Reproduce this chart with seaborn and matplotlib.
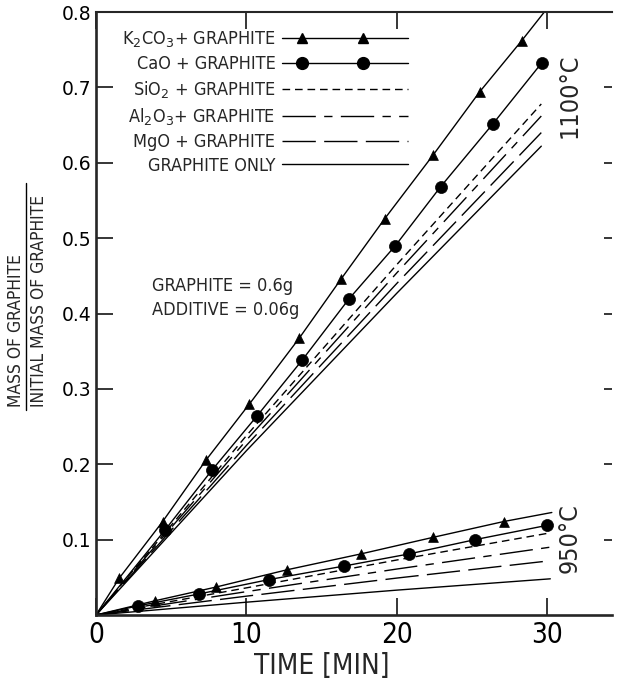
import numpy as np
import pandas as pd
import matplotlib
matplotlib.use("Agg")
import matplotlib.pyplot as plt
import seaborn as sns
from matplotlib import font_manager
from matplotlib.lines import Line2D
from matplotlib.legend_handler import HandlerLine2DCompound

# ---------------- data ----------------
# 1100 C
k2co3_1100_t = [1.55, 4.43, 7.33, 10.2, 13.5, 16.3, 19.2, 22.4, 25.5, 28.3]
k2co3_1100_y = [0.049, 0.124, 0.206, 0.280, 0.367, 0.446, 0.526, 0.610, 0.694, 0.762]
k2co3_1100_end = (30.0, 0.805)

cao_1100_t = [4.6, 7.7, 10.7, 13.7, 16.8, 19.9, 22.9, 26.4, 29.65]
cao_1100_y = [0.113, 0.192, 0.264, 0.338, 0.419, 0.490, 0.568, 0.652, 0.733]

plain_1100_t = [0, 10, 20, 29.6]
sio2_1100_y = [0, 0.238, 0.465, 0.678]
al2o3_1100_y = [0, 0.232, 0.454, 0.662]
mgo_1100_y = [0, 0.225, 0.440, 0.640]
graphite_1100_y = [0, 0.218, 0.427, 0.622]

# 950 C
k2co3_950_t = [3.95, 7.96, 12.7, 17.6, 22.4, 27.1]
k2co3_950_y = [0.019, 0.037, 0.060, 0.081, 0.103, 0.124]
k2co3_950_end = (30.3, 0.136)

cao_950_t = [2.77, 6.87, 11.5, 16.5, 20.8, 25.2, 30.0]
cao_950_y = [0.012, 0.028, 0.047, 0.065, 0.081, 0.100, 0.119]

plain_950_t = [0, 10, 20, 30.2]
sio2_950_y = [0, 0.036, 0.073, 0.109]
al2o3_950_y = [0, 0.031, 0.061, 0.090]
mgo_950_y = [0, 0.025, 0.049, 0.072]
graphite_950_y = [0, 0.017, 0.033, 0.048]

legend_labels = [r"K$_\mathrm{2}$CO$_\mathrm{3}$+ GRAPHITE", "CaO + GRAPHITE",
                 r"SiO$_\mathrm{2}$ + GRAPHITE", r"Al$_\mathrm{2}$O$_\mathrm{3}$+ GRAPHITE",
                 "MgO + GRAPHITE", "GRAPHITE ONLY"]
x_ticks = [0, 10, 20, 30]
y_ticks = [0.1, 0.2, 0.3, 0.4, 0.5, 0.6, 0.7, 0.8]

# ---------------- style ----------------
sns.set_style("ticks")
names = {f.name for f in font_manager.fontManager.ttflist}
if "Liberation Sans Narrow" in names:
    NARROW = "Liberation Sans Narrow"
    NSTRETCH = "normal"
else:
    NARROW = "DejaVu Sans"
    NSTRETCH = "condensed"
plt.rcParams["font.family"] = ["DejaVu Sans"]
plt.rcParams["mathtext.fontset"] = "custom"
plt.rcParams["mathtext.rm"] = NARROW
plt.rcParams["mathtext.it"] = NARROW
plt.rcParams["mathtext.bf"] = NARROW
plt.rcParams["lines.scale_dashes"] = False

nfont = dict(family=NARROW, stretch=NSTRETCH)

LS = {
    "sio2": (0, (5.5, 3.5)),
    "al2o3": (0, (24, 6, 6, 6)),
    "mgo": (0, (24, 6)),
    "graphite": "-",
}
LW = 1.0

fig = plt.figure(figsize=(6.18, 6.8), dpi=100)
ax = fig.add_axes([96 / 618, 1 - 615 / 680, 516 / 618, 603 / 680])

def line(t, y, ls="-"):
    sns.lineplot(x=t, y=y, ax=ax, color="black", lw=LW, linestyle=ls,
                 estimator=None, sort=False)

def marks(t, y, m, s):
    sns.scatterplot(x=t, y=y, ax=ax, color="black", marker=m, s=s,
                    edgecolor="black", linewidth=0.5, zorder=5)

# 1100 C
line([0] + k2co3_1100_t + [k2co3_1100_end[0]], [0] + k2co3_1100_y + [k2co3_1100_end[1]])
marks(k2co3_1100_t, k2co3_1100_y, "^", 50)
line([0] + cao_1100_t, [0] + cao_1100_y)
marks(cao_1100_t, cao_1100_y, "o", 75)
line(plain_1100_t, sio2_1100_y, LS["sio2"])
line(plain_1100_t, al2o3_1100_y, LS["al2o3"])
line(plain_1100_t, mgo_1100_y, LS["mgo"])
line(plain_1100_t, graphite_1100_y, LS["graphite"])

# 950 C
line([0] + k2co3_950_t + [k2co3_950_end[0]], [0] + k2co3_950_y + [k2co3_950_end[1]])
marks(k2co3_950_t, k2co3_950_y, "^", 50)
line([0] + cao_950_t, [0] + cao_950_y)
marks(cao_950_t, cao_950_y, "o", 75)
line(plain_950_t, sio2_950_y, LS["sio2"])
line(plain_950_t, al2o3_950_y, LS["al2o3"])
line(plain_950_t, mgo_950_y, LS["mgo"])
line(plain_950_t, graphite_950_y, LS["graphite"])

ax.set_xlim(0, 34.3)
ax.set_ylim(0, 0.8)
ax.set_xticks(x_ticks)
ax.set_yticks(y_ticks)
ax.set_xticklabels([str(v) for v in x_ticks], fontsize=20, **nfont)
ax.set_yticklabels([f"{v:.1f}" for v in y_ticks], fontsize=13.5)

for side in ["left", "bottom"]:
    ax.spines[side].set_linewidth(1.9)
ax.spines["top"].set_linewidth(1.5)
ax.spines["right"].set_visible(False)

ax.tick_params(axis="both", which="major", direction="in", width=1.1, length=12,
               color="black", labelcolor="black")
ax.tick_params(axis="x", top=True, bottom=True, pad=4)
ax.tick_params(axis="y", left=True, right=True, pad=3)
for t in ax.yaxis.get_major_ticks():
    t.tick2line.set_markersize(6)

ax.set_xlabel("TIME [MIN]", fontsize=20, **nfont)
ax.set_ylabel("")
ax.xaxis.set_label_coords((322 - 96) / 516, -(666 - 615) / 603)
ax.xaxis.label.set_va("center")

# temperature labels
ax.text(31.5, 0.689, "1100°C", rotation=90, ha="center", va="center", fontsize=18, **nfont)
ax.text(31.5, 0.102, "950°C", rotation=90, ha="center", va="center", fontsize=18, **nfont)

# sample info
ax.text(3.7, 0.436, "GRAPHITE = 0.6g", ha="left", va="center", fontsize=13, **nfont)
ax.text(3.7, 0.404, "ADDITIVE = 0.06g", ha="left", va="center", fontsize=13, **nfont)

# legend (proxy style handles)
handles = [
    Line2D([], [], color="black", lw=LW, marker="^", markersize=7),
    Line2D([], [], color="black", lw=LW, marker="o", markersize=8.5),
    Line2D([], [], color="black", lw=LW, linestyle=LS["sio2"]),
    Line2D([], [], color="black", lw=LW, linestyle=LS["al2o3"]),
    Line2D([], [], color="black", lw=LW, linestyle=LS["mgo"]),
    Line2D([], [], color="black", lw=LW, linestyle=LS["graphite"]),
]

class InnerMarkers(HandlerLine2DCompound):
    def get_xdata(self, legend, xdescent, ydescent, width, height, fontsize):
        xdata = np.array([-xdescent, -xdescent + width])
        xm = -xdescent + width * np.array([0.16, 0.64])
        return xdata, xm

leg = ax.legend(handles, legend_labels, loc="upper left",
                bbox_to_anchor=((122 - 96) / 516, (615 - 29) / 603),
                frameon=False, markerfirst=False, handlelength=7.0,
                handletextpad=0.35, labelspacing=0.33, borderpad=0, borderaxespad=0,
                prop=dict(family=NARROW, stretch=NSTRETCH, size=13),
                handler_map={Line2D: InnerMarkers()})

# y label as a fraction
fig.text(16 / 618, 1 - 407 / 680, "MASS OF GRAPHITE", rotation=90, ha="center",
         va="bottom", fontsize=12.5, **nfont)
fig.text(39 / 618, 1 - 407 / 680, "INITIAL MASS OF GRAPHITE", rotation=90, ha="center",
         va="bottom", fontsize=12.5, **nfont)
fig.add_artist(Line2D([26 / 618, 26 / 618], [1 - 410 / 680, 1 - 183 / 680],
                      transform=fig.transFigure, color="black", lw=1.0))

fig.savefig("out.png", dpi=100)
